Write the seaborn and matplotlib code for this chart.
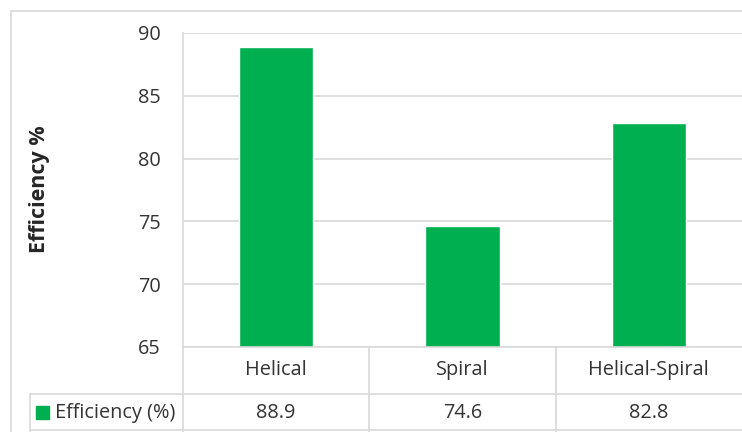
import matplotlib
matplotlib.use("Agg")
import matplotlib.pyplot as plt
from matplotlib.lines import Line2D
from matplotlib.patches import Rectangle
from matplotlib.transforms import blended_transform_factory
import seaborn as sns

categories = ["Helical", "Spiral", "Helical-Spiral"]
efficiency = [88.9, 74.6, 82.8]
series_name = "Efficiency (%)"
y_ticks = [65, 70, 75, 80, 85, 90]

GREEN = "#00b050"
GRID = "#d9d9d9"
TEXT = "#333333"
FS = 14.3

W, H = 742, 432

sns.set_style("white")
plt.rcParams["font.family"] = ["Open Sans", "DejaVu Sans"]


def fx(px):
	return px / W


def fy(py):
	return 1 - py / H


fig = plt.figure(figsize=(W / 100, H / 100), dpi=100)
ax = fig.add_axes([fx(183), fy(347), fx(742 - 183), (347 - 33) / H])

sns.barplot(x=categories, y=efficiency, color=GREEN, saturation=1, width=0.4, ax=ax)

ax.set_ylim(65, 90)
ax.set_xlim(-0.5, len(categories) - 0.5)
ax.set_yticks(y_ticks)
ax.set_yticklabels([str(t) for t in y_ticks], fontsize=FS, color=TEXT)
ax.tick_params(axis="y", length=0, pad=16)
ax.set_xticks([])
ax.set_xlabel("")
ax.set_ylabel("")
ax.yaxis.grid(True, color=GRID, linewidth=1.2)
ax.set_axisbelow(True)
for s in ["top", "right", "bottom"]:
	ax.spines[s].set_visible(False)
ax.spines["left"].set_color(GRID)
ax.spines["left"].set_linewidth(1.2)

fig.text(fx(40), fy(189), "Efficiency %", rotation=90, ha="center", va="center",
	fontsize=15.5, fontweight="bold", color="#262626")

# outer chart frame
def fline(x0, y0, x1, y1):
	fig.add_artist(Line2D([fx(x0), fx(x1)], [fy(y0), fy(y1)], color=GRID, linewidth=1.2))

fline(11, 11, 742, 11)
fline(11, 11, 11, 432)

# data table under the axis
fline(183, 347, 742, 347)
fline(183, 347, 183, 432)
fline(30, 394, 742, 394)
fline(30, 430, 742, 430)
fline(30, 394, 30, 432)

tr = blended_transform_factory(ax.transData, fig.transFigure)
for i in range(len(categories) - 1):
	fig.add_artist(Line2D([i + 0.5, i + 0.5], [fy(347), fy(432)], transform=tr,
		color=GRID, linewidth=1.2))

for i, (cat, val) in enumerate(zip(categories, efficiency)):
	fig.text(i, fy(370), cat, transform=tr, ha="center", va="center", fontsize=FS, color=TEXT)
	fig.text(i, fy(413), f"{val:.1f}", transform=tr, ha="center", va="center", fontsize=FS, color=TEXT)

fig.add_artist(Rectangle((fx(36), fy(419)), fx(13), 13 / H, color=GREEN))
fig.text(fx(55), fy(413), series_name, ha="left", va="center", fontsize=FS, color=TEXT)

fig.savefig("out.png", dpi=100)
